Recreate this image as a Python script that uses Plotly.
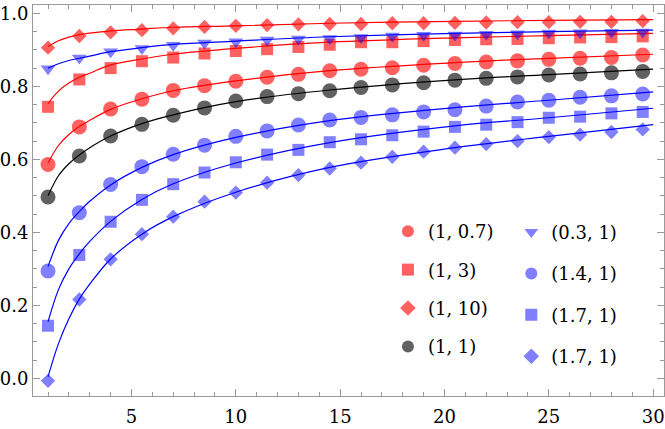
import plotly.graph_objects as go

# sample points (markers)
x_pts = [1, 2.5, 4, 5.5, 7, 8.5, 10, 11.5, 13, 14.5,
         16, 17.5, 19, 20.5, 22, 23.5, 25, 26.5, 28, 29.5]

red_circle = [0.586, 0.689, 0.738, 0.765, 0.789, 0.802, 0.814, 0.825, 0.833, 0.843,
              0.847, 0.851, 0.858, 0.863, 0.867, 0.870, 0.874, 0.877, 0.879, 0.886]
red_square = [0.744, 0.819, 0.850, 0.869, 0.879, 0.890, 0.897, 0.902, 0.908, 0.914,
              0.921, 0.921, 0.924, 0.927, 0.929, 0.930, 0.932, 0.934, 0.935, 0.937]
red_diamond = [0.906, 0.938, 0.948, 0.954, 0.959, 0.963, 0.966, 0.968, 0.970, 0.971,
               0.971, 0.973, 0.973, 0.974, 0.975, 0.976, 0.976, 0.977, 0.977, 0.979]
black_circle = [0.497, 0.609, 0.664, 0.696, 0.721, 0.741, 0.760, 0.772, 0.780, 0.788,
                0.797, 0.804, 0.810, 0.817, 0.822, 0.826, 0.831, 0.834, 0.837, 0.841]
blue_triangle = [0.848, 0.878, 0.895, 0.904, 0.913, 0.919, 0.922, 0.927, 0.930, 0.931,
                 0.934, 0.938, 0.940, 0.941, 0.943, 0.944, 0.946, 0.947, 0.948, 0.949]
blue_circle = [0.294, 0.454, 0.531, 0.580, 0.614, 0.639, 0.663, 0.678, 0.694, 0.708,
               0.715, 0.722, 0.730, 0.736, 0.746, 0.757, 0.762, 0.770, 0.774, 0.779]
blue_square = [0.144, 0.338, 0.429, 0.489, 0.532, 0.564, 0.592, 0.613, 0.626, 0.647,
               0.655, 0.666, 0.676, 0.689, 0.695, 0.702, 0.714, 0.717, 0.726, 0.730]
blue_diamond = [-0.007, 0.216, 0.326, 0.395, 0.443, 0.484, 0.509, 0.536, 0.557, 0.575,
                0.591, 0.607, 0.621, 0.632, 0.642, 0.650, 0.661, 0.668, 0.675, 0.682]

# fitted curves
x_fit = [1, 1.5, 2, 2.5, 3, 4, 5.5, 7, 10, 14.5, 20.5, 25, 30]
fit_red_circle = [0.590, 0.638, 0.668, 0.690, 0.707, 0.737, 0.766, 0.788, 0.815, 0.843, 0.865, 0.877, 0.888]
fit_red_square = [0.753, 0.787, 0.809, 0.825, 0.836, 0.859, 0.875, 0.888, 0.904, 0.921, 0.933, 0.939, 0.945]
fit_red_diamond = [0.909, 0.925, 0.935, 0.942, 0.946, 0.952, 0.957, 0.962, 0.966, 0.973, 0.978, 0.981, 0.983]
fit_black = [0.500, 0.555, 0.588, 0.612, 0.632, 0.664, 0.698, 0.722, 0.758, 0.790, 0.818, 0.832, 0.847]
fit_blue_triangle = [0.850, 0.862, 0.871, 0.877, 0.883, 0.895, 0.906, 0.915, 0.924, 0.936, 0.945, 0.950, 0.954]
fit_blue_circle = [0.306, 0.378, 0.424, 0.457, 0.485, 0.530, 0.578, 0.613, 0.660, 0.706, 0.742, 0.762, 0.785]
fit_blue_square = [0.155, 0.243, 0.300, 0.341, 0.375, 0.430, 0.490, 0.533, 0.590, 0.646, 0.692, 0.714, 0.740]
fit_blue_diamond = [0.004, 0.095, 0.163, 0.217, 0.258, 0.327, 0.395, 0.443, 0.510, 0.578, 0.632, 0.663, 0.695]

RED = "#ff0000"
BLUE = "#0000ff"
BLACK = "#000000"
RED_M = "rgba(255,0,0,0.62)"
BLUE_M = "rgba(0,0,255,0.5)"
BLACK_M = "rgba(0,0,0,0.62)"

series = [
    # label, points, fit, line colour, marker colour, symbol, size, legend
    ("(1, 0.7)", red_circle, fit_red_circle, RED, RED_M, "circle", 15, "legend"),
    ("(1, 3)", red_square, fit_red_square, RED, RED_M, "square", 12, "legend"),
    ("(1, 10)", red_diamond, fit_red_diamond, RED, RED_M, "diamond", 11, "legend"),
    ("(1, 1)", black_circle, fit_black, BLACK, BLACK_M, "circle", 15, "legend"),
    ("(0.3, 1)", blue_triangle, fit_blue_triangle, BLUE, BLUE_M, "triangle-down", 13, "legend2"),
    ("(1.4, 1)", blue_circle, fit_blue_circle, BLUE, BLUE_M, "circle", 15, "legend2"),
    ("(1.7, 1)", blue_square, fit_blue_square, BLUE, BLUE_M, "square", 12, "legend2"),
    ("(1.7, 1)", blue_diamond, fit_blue_diamond, BLUE, BLUE_M, "diamond", 11, "legend2"),
]

fig = go.Figure()

for name, pts, fit, lc, mc, sym, sz, leg in series:
    fig.add_trace(go.Scatter(x=x_fit, y=fit, mode="lines", showlegend=False,
                             line=dict(color=lc, width=1.2, shape="spline", smoothing=1.0),
                             hoverinfo="skip"))

for i, (name, pts, fit, lc, mc, sym, sz, leg) in enumerate(series):
    fig.add_trace(go.Scatter(x=x_pts, y=pts, mode="markers", name=name,
                             legend=leg, legendgroup=f"g{i}",
                             marker=dict(color=mc, symbol=sym, size=sz, line=dict(width=0))))

tick_font = dict(family="DejaVu Serif", size=18, color="black")
legend_font = dict(family="DejaVu Serif", size=18, color="black")

fig.update_layout(
    width=665, height=429,
    margin=dict(l=33, r=1, t=5, b=33),
    plot_bgcolor="white", paper_bgcolor="white",
    font=tick_font,
    legend=dict(x=0.5625, y=0.468, font=legend_font, bgcolor="rgba(0,0,0,0)",
                tracegroupgap=12, traceorder="grouped",
                xanchor="left", yanchor="top", itemsizing="constant"),
    legend2=dict(x=0.758, y=0.466, font=legend_font, bgcolor="rgba(0,0,0,0)",
                 tracegroupgap=15, traceorder="grouped",
                 xanchor="left", yanchor="top", itemsizing="constant"),
)

fig.update_xaxes(
    range=[0.28, 30.52], showgrid=False, zeroline=False, automargin=False,
    showline=True, linecolor="#999999", linewidth=1, mirror="allticks",
    ticks="inside", ticklen=7, tickcolor="#999999", tickwidth=1,
    tickvals=[5, 10, 15, 20, 25, 30], ticklabeloverflow="allow", ticklabelstandoff=4,
    minor=dict(dtick=1, tick0=0, ticks="inside", ticklen=4, tickcolor="#999999", showgrid=False),
    tickfont=tick_font,
)
fig.update_yaxes(
    range=[-0.0485, 1.023], showgrid=False, zeroline=False, automargin=False,
    showline=True, linecolor="#999999", linewidth=1, mirror="allticks",
    ticks="inside", ticklen=7, tickcolor="#999999", tickwidth=1,
    tickvals=[0.0, 0.2, 0.4, 0.6, 0.8, 1.0], tickformat=".1f", ticklabeloverflow="allow",
    minor=dict(dtick=0.05, tick0=0, ticks="inside", ticklen=4, tickcolor="#999999", showgrid=False),
    tickfont=tick_font,
)

# the page body has a default margin; drop it so the figure sits at the corner
fig.write_html("out.html", config={"displayModeBar": False},
               post_script="document.body.style.margin='0px';")
